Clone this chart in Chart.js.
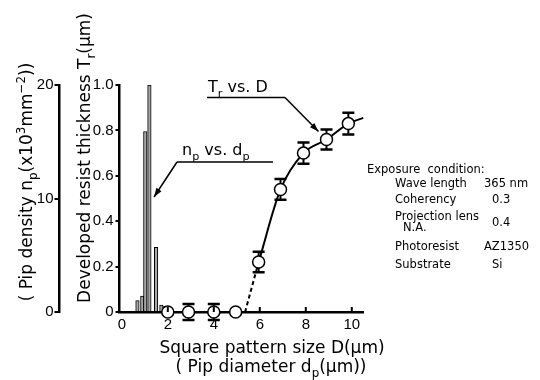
<!DOCTYPE html>
<html>
<head>
<meta charset="utf-8">
<script src="https://cdn.jsdelivr.net/npm/chart.js@4.4.0/dist/chart.umd.min.js"></script>
<style>
  body { margin: 0; background: #fff; }
  canvas { display: block; }
</style>
</head>
<body>
<canvas id="grafico" width="540" height="380"></canvas>
<script>
// histogram: pip density vs pip diameter
const pipDiam = [0.68, 0.89, 1.02, 1.20, 1.49, 1.72, 1.89];
const pipDensity = [1.0, 1.4, 15.9, 20.0, 5.7, 0.6, 0.5];

// measured resist thickness vs square pattern size
const sizeD = [2.0, 2.9, 4.0, 4.95, 5.95, 6.9, 7.9, 8.9, 9.85];
const thickTr = [0, 0, 0, 0, 0.22, 0.54, 0.70, 0.76, 0.83];
const errTr = [0, 0.035, 0.035, 0, 0.045, 0.046, 0.047, 0.044, 0.048];

// drawn curve (solid part and dashed extrapolation)
const curveD = [5.95, 6.9, 7.9, 8.9, 9.85, 10.5];
const curveTr = [0.22, 0.54, 0.70, 0.76, 0.83, 0.855];
const dashD = [5.36, 5.95];
const dashTr = [0, 0.22];

const ticksD = [0, 2, 4, 6, 8, 10];
const ticksTr = [0, 0.2, 0.4, 0.6, 0.8, 1.0];
const ticksNp = [0, 10, 20];

const exposure = [
  ['Wave length', '365 nm'],
  ['Coherency', '0.3'],
  ['Projection lens', '0.4'],
  ['Photoresist', 'AZ1350'],
  ['Substrate', 'Si']
];

const FONT = 'DejaVu Sans';
const TICKFONT = 'Liberation Sans';
Chart.defaults.font.family = FONT;
Chart.defaults.color = '#000';

function pts(xs, ys) {
  return xs.map((x, i) => ({ x: x, y: ys[i] }));
}

// text with sub/superscripts
function rich(ctx, parts, x, y, size, align) {
  const widths = parts.map(p => {
    ctx.font = (p[1] ? size * 0.7 : size) + 'px ' + FONT;
    return ctx.measureText(p[0]).width;
  });
  const total = widths.reduce((a, b) => a + b, 0);
  let cx = align === 'center' ? x - total / 2 : x;
  ctx.textAlign = 'left';
  ctx.textBaseline = 'alphabetic';
  parts.forEach((p, i) => {
    let dy = 0;
    if (p[1] === 'sub') dy = size * 0.32;
    if (p[1] === 'sup') dy = -size * 0.42;
    ctx.font = (p[1] ? size * 0.7 : size) + 'px ' + FONT;
    ctx.fillText(p[0], cx, y + dy);
    cx += widths[i];
  });
}

function arrow(ctx, x0, y0, x1, y1) {
  ctx.beginPath();
  ctx.moveTo(x0, y0);
  ctx.lineTo(x1, y1);
  ctx.stroke();
  const a = Math.atan2(y1 - y0, x1 - x0);
  ctx.beginPath();
  ctx.moveTo(x1, y1);
  ctx.lineTo(x1 - 9 * Math.cos(a) + 3 * Math.sin(a), y1 - 9 * Math.sin(a) - 3 * Math.cos(a));
  ctx.lineTo(x1 - 9 * Math.cos(a) - 3 * Math.sin(a), y1 - 9 * Math.sin(a) + 3 * Math.cos(a));
  ctx.closePath();
  ctx.fill();
}

const extras = {
  id: 'extras',
  beforeDatasetsDraw(chart) {
    const ctx = chart.ctx;
    const x = chart.scales.x, y = chart.scales.yTr;
    ctx.save();
    ctx.strokeStyle = '#000';
    sizeD.forEach((d, i) => {
      if (!errTr[i]) return;
      const px = x.getPixelForValue(d);
      const top = y.getPixelForValue(thickTr[i] + errTr[i]);
      const bot = y.getPixelForValue(thickTr[i] - errTr[i]);
      ctx.lineWidth = 2;
      ctx.beginPath();
      ctx.moveTo(px, top); ctx.lineTo(px, bot);
      ctx.stroke();
      ctx.lineWidth = 2.5;
      ctx.beginPath();
      ctx.moveTo(px - 6, top); ctx.lineTo(px + 6, top);
      ctx.moveTo(px - 6, bot); ctx.lineTo(px + 6, bot);
      ctx.stroke();
    });
    ctx.restore();
  },
  afterDraw(chart) {
    const ctx = chart.ctx;
    const x = chart.scales.x, y = chart.scales.yTr;
    ctx.save();
    ctx.fillStyle = '#000';
    ctx.strokeStyle = '#000';

    // inward ticks on the x axis
    ctx.lineWidth = 2;
    ticksD.slice(1).forEach(v => {
      const px = x.getPixelForValue(v);
      ctx.beginPath();
      ctx.moveTo(px, y.bottom);
      ctx.lineTo(px, y.bottom - 5);
      ctx.stroke();
    });

    // axis titles
    rich(ctx, [['Square pattern size D(μm)', '']], 272, 353, 17, 'center');
    rich(ctx, [['( Pip diameter d', ''], ['p', 'sub'], ['(μm))', '']], 271, 372, 17, 'center');

    ctx.save();
    ctx.translate(32, 182);
    ctx.rotate(-Math.PI / 2);
    rich(ctx, [['( Pip density n', ''], ['p', 'sub'], ['(x10', ''], ['3', 'sup'],
               ['mm', ''], ['−2', 'sup'], ['))', '']], 0, 0, 17, 'center');
    ctx.restore();

    ctx.save();
    ctx.translate(90, 158);
    ctx.rotate(-Math.PI / 2);
    rich(ctx, [['Developed resist thickness T', ''], ['r', 'sub'], ['(μm)', '']], 0, 0, 17, 'center');
    ctx.restore();

    // curve labels with leader arrows
    rich(ctx, [['T', ''], ['r', 'sub'], [' vs. D', '']], 208, 92, 16, 'left');
    ctx.lineWidth = 1.5;
    ctx.beginPath();
    ctx.moveTo(207, 97.5); ctx.lineTo(285, 97.5);
    ctx.stroke();
    arrow(ctx, 285, 97.5, x.getPixelForValue(8.9) - 8, y.getPixelForValue(0.76) - 8);

    rich(ctx, [['n', ''], ['p', 'sub'], [' vs. d', ''], ['p', 'sub']], 182, 155, 16, 'left');
    ctx.lineWidth = 1.5;
    ctx.beginPath();
    ctx.moveTo(177, 162); ctx.lineTo(273, 162);
    ctx.stroke();
    arrow(ctx, 177, 162, 154, 197);

    // exposure condition block
    ctx.font = '11.5px ' + FONT;
    ctx.textAlign = 'left';
    ctx.textBaseline = 'alphabetic';
    ctx.fillText('Exposure  condition:', 367, 173);
    const rows = [187, 203, 220, 250, 268];
    exposure.forEach((r, i) => {
      ctx.fillText(r[0], 395, rows[i]);
      const vx = r[1].length > 3 ? 484 : 492;
      ctx.fillText(r[1], vx, i === 2 ? 226 : rows[i]);
    });
    ctx.fillText('N.A.', 403, 231);
    ctx.restore();
  }
};

new Chart(document.getElementById('grafico'), {
  type: 'bar',
  data: {
    datasets: [
      {
        type: 'line',
        data: pts(sizeD, thickTr),
        yAxisID: 'yTr',
        showLine: false,
        pointRadius: 6,
        pointBorderWidth: 1.5,
        pointBackgroundColor: '#fff',
        pointBorderColor: '#000',
        clip: false,
        order: 0
      },
      {
        type: 'line',
        data: pts(curveD, curveTr),
        yAxisID: 'yTr',
        borderColor: '#000',
        borderWidth: 2,
        pointRadius: 0,
        cubicInterpolationMode: 'monotone',
        clip: false,
        order: 1
      },
      {
        type: 'line',
        data: pts(dashD, dashTr),
        yAxisID: 'yTr',
        borderColor: '#000',
        borderWidth: 2,
        borderDash: [4, 3],
        pointRadius: 0,
        order: 1
      },
      {
        type: 'bar',
        data: pts(pipDiam, pipDensity),
        yAxisID: 'yNp',
        backgroundColor: '#a8a8a8',
        borderColor: '#000',
        borderWidth: 1,
        barThickness: 3.5,
        order: 2
      }
    ]
  },
  options: {
    responsive: false,
    animation: false,
    layout: { padding: { left: 0, top: 85, right: 176.7, bottom: 0 } },
    plugins: { legend: { display: false }, tooltip: { enabled: false } },
    scales: {
      x: {
        type: 'linear',
        position: 'bottom',
        min: -0.1,
        max: 10.5,
        offset: false,
        afterBuildTicks: s => { s.ticks = ticksD.map(v => ({ value: v })); },
        afterFit: s => { s.height = 68; },
        grid: { display: false, drawTicks: false, offset: false },
        border: { display: true, width: 2.5, color: '#000' },
        ticks: { font: { family: TICKFONT, size: 15 }, padding: 4, maxRotation: 0 }
      },
      yTr: {
        type: 'linear',
        position: 'left',
        weight: 1,
        min: 0,
        max: 1,
        afterBuildTicks: s => { s.ticks = ticksTr.map(v => ({ value: v })); },
        afterFit: s => { s.width = 60; },
        grid: { drawOnChartArea: false, drawTicks: true, tickLength: 4, lineWidth: 2, color: '#000' },
        border: { display: true, width: 2.5, color: '#000' },
        ticks: {
          font: { family: TICKFONT, size: 15 }, padding: 2,
          callback: v => v === 0 ? '0' : v.toFixed(1)
        }
      },
      yNp: {
        type: 'linear',
        position: 'left',
        weight: 2,
        min: 0,
        max: 20,
        afterBuildTicks: s => { s.ticks = ticksNp.map(v => ({ value: v })); },
        afterFit: s => { s.width = 59.5; },
        grid: { drawOnChartArea: false, drawTicks: true, tickLength: 5, lineWidth: 2, color: '#000' },
        border: { display: true, width: 2.5, color: '#000' },
        ticks: { font: { family: TICKFONT, size: 15 }, padding: 1 }
      }
    }
  },
  plugins: [extras]
});
</script>
</body>
</html>
